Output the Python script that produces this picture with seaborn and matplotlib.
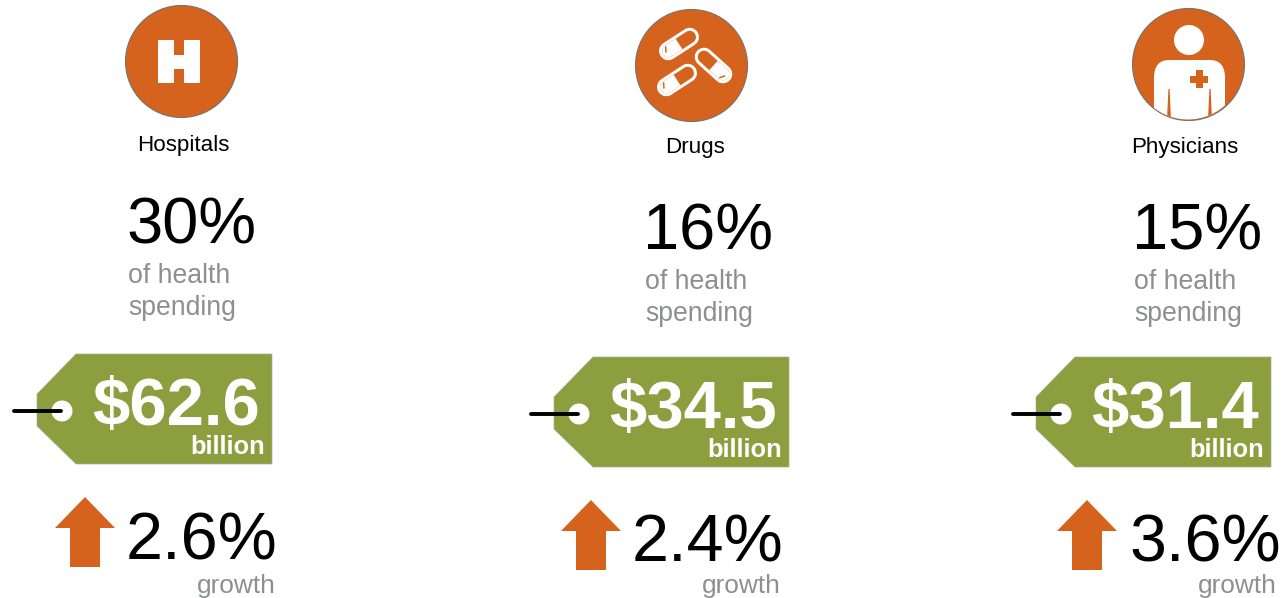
import numpy as np
import pandas as pd
import matplotlib
matplotlib.use("Agg")
import matplotlib.pyplot as plt
from matplotlib.patches import Circle, Polygon, Rectangle, PathPatch
from matplotlib.path import Path
import seaborn as sns

# Values shown for each spending category
categories = ["Hospitals", "Drugs", "Physicians"]
spending_share = [30, 16, 15]
spending_billion = [62.6, 34.5, 31.4]
growth_rate = [2.6, 2.4, 3.6]

# Page layout, in pixels from the top-left corner
badge_x = [181, 691, 1188]
badge_y = [61, 65, 64]
label_x = [183, 695, 1185]
label_y = [146, 148, 148]
share_x = [126, 643, 1132]
share_y = [226, 232, 232]
tag_dx = [0, 517, 999]
tag_dy = [0, 3, 3]
arrow_dx = [0, 506, 1002]
arrow_dy = [0, 3, 3]
growth_x = [126, 632, 1129]
growth_word_right = [276, 781, 1277]

ORANGE = "#D5631E"
GREEN = "#8C9E3D"
GREY = "#8E8F92"
FONT = "Liberation Sans"

sns.set_theme(style="white")
plt.rcParams["font.family"] = [FONT, "DejaVu Sans"]

W, H = 1282, 598
fig = plt.figure(figsize=(W / 100, H / 100), dpi=100, facecolor="white")
ax = fig.add_axes([0, 0, 1, 1])
ax.set_xlim(0, W)
ax.set_ylim(H, 0)
ax.axis("off")


def px(size):
    """Font size in points for a height given in pixels at 100 dpi."""
    return size * 0.72


# Round badges behind the icons
badges = pd.DataFrame({"x": badge_x, "y": badge_y, "category": categories})
sns.scatterplot(data=badges, x="x", y="y", s=(112 * 0.72) ** 2, color=ORANGE,
                edgecolor="#77726C", linewidth=0.8, legend=False, ax=ax, zorder=2)
ax.set_xlim(0, W)
ax.set_ylim(H, 0)
ax.axis("off")


def capsule_points(cx, cy, length, width, angle, t0=-1.0, t1=1.0):
    """Outline of a capsule (or a slice of one along its axis)."""
    r = width / 2
    half = length / 2 - r
    a = np.linspace(-np.pi / 2, np.pi / 2, 24)
    u = np.concatenate([half + r * np.cos(a), -half - r * np.cos(a)])
    v = np.concatenate([r * np.sin(a), -r * np.sin(a)])
    u = np.clip(u, t0 * length / 2, t1 * length / 2)
    th = np.radians(angle)
    return np.column_stack([cx + u * np.cos(th) + v * np.sin(th),
                            cy - u * np.sin(th) + v * np.cos(th)])


def draw_pill(cx, cy, angle, solid_end, length=44, width=18.5):
    """Capsule with one hollow half and one solid half; solid_end is -1 or +1 along its axis."""
    span = (-1.0, 0.0) if solid_end < 0 else (0.0, 1.0)
    ax.add_patch(Polygon(capsule_points(cx, cy, length, width, angle),
                         fc="white", ec="none", zorder=3))
    ax.add_patch(Polygon(capsule_points(cx, cy, length - 6, width - 6, angle),
                         fc=ORANGE, ec="none", zorder=4))
    ax.add_patch(Polygon(capsule_points(cx, cy, length - 6, width - 6, angle, *span),
                         fc="white", ec="none", zorder=5))
    # small glint near the rounded solid end
    th = np.radians(angle)
    ux, uy = np.cos(th), -np.sin(th)
    vx, vy = np.sin(th), np.cos(th)
    side = -1 if solid_end < 0 else 1
    hx = cx + solid_end * 0.32 * length * ux + side * 0.14 * width * vx
    hy = cy + solid_end * 0.32 * length * uy + side * 0.14 * width * vy
    ax.add_patch(Polygon(capsule_points(hx, hy, 6.5, 1.5, angle + 60),
                         fc=ORANGE, ec="none", zorder=6))


def draw_hospital(cx, cy):
    ax.add_patch(Rectangle((cx - 23, cy - 21), 16, 43, fc="white", ec="none", zorder=3))
    ax.add_patch(Rectangle((cx + 3, cy - 21), 16, 43, fc="white", ec="none", zorder=3))
    ax.add_patch(Rectangle((cx - 8, cy - 6), 12, 14, fc="white", ec="none", zorder=3))


def draw_physician(cx, cy):
    clip = Circle((cx, cy), 55.5, transform=ax.transData)
    ax.add_patch(Circle((cx + 1, cy - 24), 15, fc="white", ec="none", zorder=3))
    left, right, top, low = cx - 34, cx + 37, cy - 4, cy + 60
    verts = [(left, low), (left, cy + 14), (left, top), (cx - 19, top),
             (cx + 22, top), (right, top), (right, cy + 14), (right, low), (left, low)]
    codes = [Path.MOVETO, Path.LINETO, Path.CURVE3, Path.CURVE3,
             Path.LINETO, Path.CURVE3, Path.CURVE3, Path.LINETO, Path.CLOSEPOLY]
    body = PathPatch(Path(verts, codes), fc="white", ec="none", zorder=3)
    ax.add_patch(body)
    body.set_clip_path(clip)
    # sleeve seams
    for sx in (-19, 22):
        seam = Polygon([(cx + sx - 0.6, cy + 25), (cx + sx + 0.6, cy + 25),
                        (cx + sx + 2.2, cy + 60), (cx + sx - 2.2, cy + 60)],
                       fc=ORANGE, ec="none", zorder=4)
        ax.add_patch(seam)
        seam.set_clip_path(clip)
    # cross on the chest
    ax.add_patch(Rectangle((cx + 2, cy + 11.5), 18, 7, fc=ORANGE, ec="none", zorder=4))
    ax.add_patch(Rectangle((cx + 7.5, cy + 6), 7, 18, fc=ORANGE, ec="none", zorder=4))


draw_hospital(badge_x[0], badge_y[0])
draw_pill(679, 44, 33, -1)
draw_pill(677, 80, 33, -1)
draw_pill(713.5, 65.5, -42, 1)
draw_physician(badge_x[2], badge_y[2])

for i, name in enumerate(categories):
    dx, dy = tag_dx[i], tag_dy[i]
    ax.text(label_x[i], label_y[i], name, fontsize=px(22.4), color="black",
            ha="center", va="center", zorder=7)
    ax.text(share_x[i], share_y[i], f"{spending_share[i]}%", fontsize=px(65), color="black",
            ha="left", va="center", zorder=7)
    ax.text(share_x[i] + 2, share_y[i] + 50, "of health", fontsize=px(26.6), color=GREY,
            ha="left", va="center", zorder=7)
    ax.text(share_x[i] + 2, share_y[i] + 82, "spending", fontsize=px(26.6), color=GREY,
            ha="left", va="center", zorder=7)

    # Price tag with its string hole
    tag = [(37 + dx, 394 + dy), (76 + dx, 354 + dy), (272 + dx, 354 + dy),
           (272 + dx, 464 + dy), (76 + dx, 464 + dy), (37 + dx, 426 + dy)]
    ax.add_patch(Polygon(tag, fc=GREEN, ec="#A9AE9A", lw=0.5, zorder=3))
    ax.add_patch(Circle((62 + dx, 411 + dy), 10.5, fc="white", ec="none", zorder=4))
    ax.plot([14 + dx, 61 + dx], [411 + dy, 411 + dy], color="black", lw=2.8,
            solid_capstyle="round", zorder=5)
    ax.text(92 + dx, 408 + dy, f"${spending_billion[i]:.1f}", fontsize=px(67), fontweight="bold",
            color="white", ha="left", va="center", zorder=6)
    ax.text(265 + dx, 447 + dy, "billion", fontsize=px(25.5), fontweight="bold",
            color="white", ha="right", va="center", zorder=6)

    # Growth arrow and rate
    ax_, ay = arrow_dx[i], arrow_dy[i]
    arrow = [(85 + ax_, 497 + ay), (115 + ax_, 528 + ay), (100 + ax_, 528 + ay),
             (100 + ax_, 567 + ay), (70 + ax_, 567 + ay), (70 + ax_, 528 + ay),
             (55 + ax_, 528 + ay)]
    ax.add_patch(Polygon(arrow, fc=ORANGE, ec="none", zorder=3))
    ax.text(growth_x[i], 542 + ay, f"{growth_rate[i]}%", fontsize=px(66.5), color="black",
            ha="left", va="center", zorder=7)
    ax.text(growth_word_right[i], 586, "growth", fontsize=px(26.3), color=GREY,
            ha="right", va="center", zorder=7)

fig.savefig("out.png", dpi=100, facecolor="white")
